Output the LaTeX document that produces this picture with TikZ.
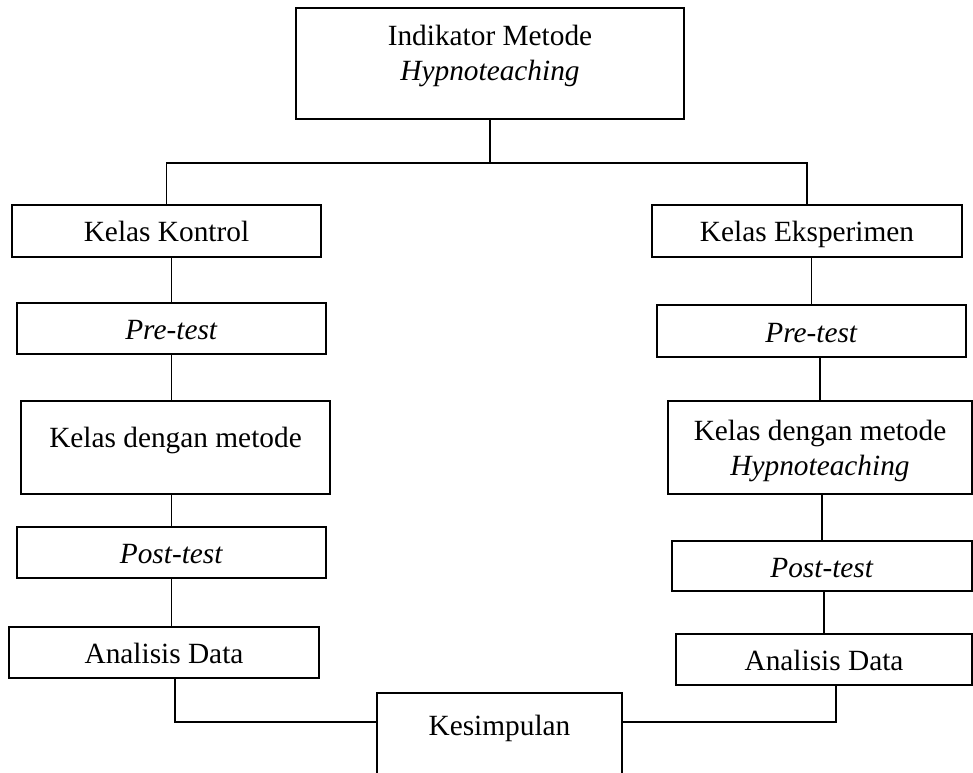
\documentclass[tikz,border=0pt]{standalone}
\usepackage{fontspec}
\setmainfont{Liberation Serif}
\usetikzlibrary{positioning}

\begin{document}
\begin{tikzpicture}[x=0.75pt,y=-0.75pt]
\def \lebar {232pt}
\def \tinggi {38.5pt}
   \tikzset{BoxStyle/.style = {draw, rectangle, line width=1.4pt, inner sep=0pt, align=center,
      minimum width=\lebar, minimum height=\tinggi, text height=16.5pt, text depth=0pt,
      font=\fontsize{22}{26}\selectfont}}
   \tikzset{TallStyle/.style = {BoxStyle, minimum height=69.75pt}}
   \tikzset{EdgeStyle/.style = {line width=1.4pt}}
\useasboundingbox (0,0) rectangle (973,773);

   \node[BoxStyle, minimum width=291pt, minimum height=83.25pt, text height=41pt, text depth=16pt]
      (i) at (490,63.5) {Indikator Metode\\\textit{Hypnoteaching}};
% kelas kontrol
   \node[BoxStyle] (k) at (166.5,231) {Kelas Kontrol};
   \node[BoxStyle] (k1) at (171.5,328.5) {\textit{Pre-test}};
   \node[TallStyle, text height=15pt, text depth=14.6pt] (k2) at (175.5,447.5) {Kelas dengan metode};
   \node[BoxStyle] (k3) at (171.5,552.5) {\textit{Post-test}};
   \node[BoxStyle] (k4) at (164,652.5) {Analisis Data};
% kelas eksperimen
   \node[BoxStyle] (e) at (807,231) {Kelas Eksperimen};
   \node[BoxStyle] (e1) at (811.5,331) {\textit{Pre-test}};
   \node[TallStyle, minimum width=228pt, text height=42pt, text depth=0.75pt] (e2) at (820,447.5)
      {Kelas dengan metode\\\textit{Hypnoteaching}};
   \node[BoxStyle, minimum width=225pt, minimum height=37.5pt] (e3) at (822,566) {\textit{Post-test}};
   \node[BoxStyle, minimum width=222pt] (e4) at (824,659.5) {Analisis Data};

   \node[TallStyle, minimum width=183.75pt, text height=15pt, text depth=21.75pt] (s) at (499.5,739.5) {Kesimpulan};

   \coordinate[below=32pt of i.south] (c);
	\draw[EdgeStyle] (i.south) -- (c);
	\draw[EdgeStyle] (k.north) |- (c) -| (e.north);
%
	\draw[EdgeStyle] (k1.north) -- (k1.north |- k.south);
	\draw[EdgeStyle] (k1.south) -- (k1.south |- k2.north);
	\draw[EdgeStyle] (k3.north) -- (k3.north |- k2.south);
	\draw[EdgeStyle] (k3.south) -- (k3.south |- k4.north);
	\draw[EdgeStyle] ([xshift=8pt]k4.south) |- ([yshift=13pt]s.west);
%
	\draw[EdgeStyle] (e1.north) -- (e1.north |- e.south);
	\draw[EdgeStyle] (e2.north) -- (e2.north |- e1.south);
	\draw[EdgeStyle] (e3.north) -- (e3.north |- e2.south);
	\draw[EdgeStyle] (e4.north) -- (e4.north |- e3.south);
	\draw[EdgeStyle] ([xshift=9pt]e4.south) |- ([yshift=13pt]s.east);
\end{tikzpicture}
\end{document}
